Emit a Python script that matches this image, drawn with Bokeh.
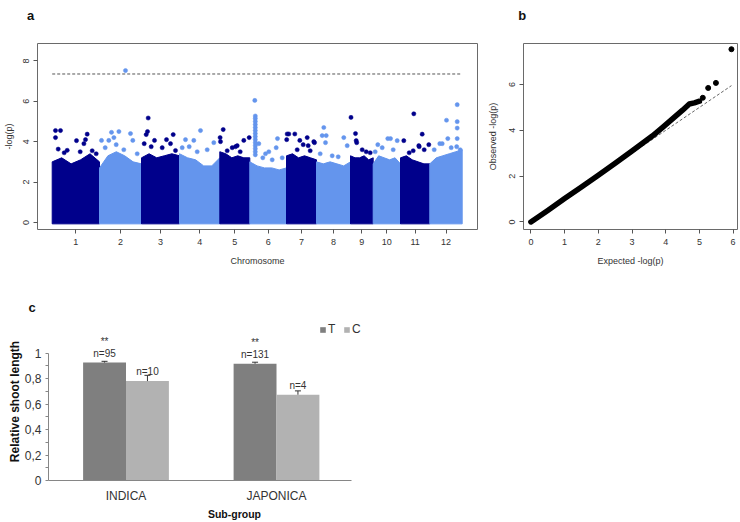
import numpy as np
from bokeh.plotting import figure
from bokeh.models import (Range1d, FixedTicker, CustomJSTickFormatter,
                          Legend, LegendItem, ColumnDataSource)
from bokeh.layouts import column, row
from bokeh.core.properties import value
from bokeh.embed import file_html
from bokeh.resources import INLINE

FONT = "Liberation Sans"

# ================= data: panel a (Manhattan plot) =================
chrom_labels = [str(i) for i in range(1, 13)]
chrom_span = [47.3, 42.0, 38.0, 40.3, 30.0, 36.7, 30.0, 34.0, 22.7, 27.3, 29.3, 32.4]
chrom_colors = ["#00008B", "#6495ED"]
# upper envelope of the dense SNP cloud (-log p), 6 samples across each chromosome
band_top = [
    [3.0, 3.2, 2.9, 3.1, 3.4, 3.0],
    [2.7, 3.3, 3.5, 3.3, 3.0, 2.9],
    [3.2, 3.4, 3.2, 3.3, 3.4, 3.3],
    [3.4, 3.2, 3.1, 2.8, 2.8, 3.2],
    [3.5, 3.4, 3.2, 3.3, 3.2, 3.2],
    [3.0, 2.8, 2.7, 2.7, 2.6, 2.7],
    [3.3, 3.4, 3.2, 3.3, 3.2, 3.1],
    [3.0, 2.9, 3.0, 2.9, 2.8, 3.0],
    [3.3, 3.2, 3.2, 3.3, 3.1, 3.2],
    [2.9, 3.3, 3.2, 3.1, 3.2, 2.9],
    [3.2, 3.3, 3.1, 3.0, 2.9, 2.9],
    [2.9, 3.2, 3.3, 3.4, 3.5, 3.6],
]
# individual SNPs above the dense cloud: chromosome, position in chromosome, -log p
hit_chr = ([1] * 13 + [2] * 12 + [3] * 11 + [4] * 8 + [5] * 10 + [6] * 23 +
           [7] * 12 + [8] * 9 + [9] * 7 + [10] * 7 + [11] * 9 + [12] * 12)
hit_pos = [3.3, 8.3, 3.3, 6.0, 35.0, 33.3, 24.3, 31.7, 15.0, 28.0, 12.0, 40.0, 44.0,
           2.0, 9.3, 12.0, 14.4, 19.4, 31.0, 33.3, 24.3, 37.7, 26.0, 16.7, 5.7,
           6.7, 6.0, 4.7, 2.7, 13.0, 25.0, 31.7, 29.0, 34.0, 20.7, 9.7,
           6.0, 14.3, 21.0, 27.7, 34.3, 2.7, 9.7, 17.7,
           3.4, 0.3, 0.7, 17.4, 12.4, 15.7, 24.0, 29.4, 7.4, 20.4,
           5.0, 5.5, 5.5, 5.5, 5.5, 5.5, 5.5, 5.5, 5.5, 5.5, 5.5, 5.5, 5.5, 5.5, 5.5,
           9.0, 26.4, 27.7, 15.7, 13.0, 19.0, 32.4, 22.4,
           0.7, 2.3, 8.3, 0.2, 13.3, 20.7, 21.7, 27.3, 16.7, 28.0, 10.7, 23.7,
           7.3, 5.7, 9.7, 9.0, 27.3, 30.7, 3.7, 15.7, 21.7,
           0.5, 5.0, 5.7, 6.2, 11.7, 15.7, 19.7,
           4.6, 14.6, 17.3, 24.0, 9.0, 20.0, 2.0,
           3.3, 13.3, 21.7, 18.3, 28.3, 12.7, 18.7, 8.7, 23.7,
           27.4, 16.7, 27.4, 27.4, 27.4, 26.9, 10.0, 12.4, 18.0, 4.4, 21.4, 30.4]
hit_logp = [4.55, 4.55, 4.2, 3.63, 4.37, 4.1, 4.05, 3.9, 3.57, 3.5, 3.45, 3.55, 3.4,
            4.06, 4.06, 4.46, 4.2, 4.5, 4.4, 4.06, 3.6, 3.4, 7.52, 3.85, 3.7,
            5.17, 4.5, 4.35, 3.9, 4.06, 4.1, 4.35, 3.9, 3.56, 3.7, 3.75,
            4.1, 4.06, 4.55, 3.6, 3.95, 3.7, 3.75, 3.5,
            4.6, 4.2, 4.0, 3.8, 3.7, 3.75, 4.06, 4.2, 3.55, 3.5,
            6.04, 5.27, 5.15, 5.0, 4.85, 4.7, 4.55, 4.4, 4.25, 4.1, 3.95, 3.8, 3.65, 3.5, 3.35,
            3.9, 3.7, 4.15, 3.4, 3.2, 3.5, 3.2, 3.1,
            4.38, 4.38, 4.38, 4.1, 4.06, 4.2, 3.8, 4.0, 3.85, 3.95, 3.6, 3.55,
            4.7, 4.3, 4.3, 3.95, 4.2, 3.8, 3.4, 3.3, 3.25,
            5.2, 4.4, 4.05, 3.95, 3.6, 3.5, 3.45,
            3.85, 4.15, 4.15, 4.05, 3.7, 3.6, 3.5,
            4.05, 5.38, 4.37, 3.8, 3.85, 3.55, 3.75, 3.45, 3.6,
            5.83, 5.06, 4.99, 4.67, 4.15, 3.75, 3.9, 3.9, 4.15, 3.6, 3.7, 3.6]
threshold = 7.35
manhattan_yticks = [0, 2, 4, 6, 8]

# ================= data: panel b (QQ plot) =================
qq_expected = [0.0, 0.5, 1.0, 1.5, 2.0, 2.5, 3.0, 3.3, 3.6, 3.9, 4.2, 4.5, 4.7, 4.85, 5.0]
qq_observed = [0.0, 0.5, 1.02, 1.53, 2.04, 2.56, 3.1, 3.42, 3.75, 4.12, 4.5, 4.88, 5.15, 5.2, 5.27]
qq_tail_expected = [5.10, 5.26, 5.49, 5.95]
qq_tail_observed = [5.42, 5.85, 6.07, 7.54]
qq_xticks = [0, 1, 2, 3, 4, 5, 6]
qq_yticks = [0, 2, 4, 6]

# ================= data: panel c (bar chart) =================
groups = ["INDICA", "JAPONICA"]
series = ["T", "C"]
mean_T = [0.925, 0.916]
mean_C = [0.780, 0.673]
err_T = [0.010, 0.012]
err_C = [0.045, 0.030]
n_T = ["n=95", "n=131"]
n_C = ["n=10", "n=4"]
sig_T = ["**", "**"]
bar_yticks = [0, 0.2, 0.4, 0.6, 0.8, 1.0]
bar_yminor = [0.1, 0.3, 0.5, 0.7, 0.9]
colors_TC = ["#7F7F7F", "#B2B2B2"]

panel_letters = ["a", "b", "c"]

TXT = "#333333"


def blank_strip(w, h):
    f = figure(width=w, height=h, x_range=Range1d(0, w), y_range=Range1d(h, 0),
               output_backend="svg", toolbar_location=None, title=None,
               x_axis_location=None, y_axis_location=None,
               min_border_left=0, min_border_right=0, min_border_top=0, min_border_bottom=0)
    f.grid.visible = False
    f.outline_line_color = None
    return f


def style_r_axis(ax, size="9px"):
    ax.axis_line_color = None
    ax.major_tick_line_color = "#555555"
    ax.major_tick_out = 4
    ax.major_tick_in = 0
    ax.minor_tick_line_color = None
    ax.major_label_text_font = FONT
    ax.major_label_text_font_size = size
    ax.major_label_text_color = TXT
    ax.axis_label_text_font = FONT
    ax.axis_label_text_font_size = size
    ax.axis_label_text_font_style = "normal"
    ax.axis_label_text_color = TXT


letter_kw = dict(text_font=value(FONT), text_font_size="13px", text_font_style="bold",
                 text_align="center", text_baseline="alphabetic", text_color="#111111")

# ---------------- header strip with letters a, b ----------------
H1 = 22
hdr1 = blank_strip(740, H1)
hdr1.text(x=[30, 521.7], y=[15, 15], text=panel_letters[:2], **letter_kw)

# ---------------- panel a ----------------
A_W, A_H = 480, 290 - H1
A_L, A_R, A_T = 37, 3, 43 - H1
A_B = A_H - A_T - 186
ax0, ax1 = -14.7, 425.3
ay0, ay1 = -0.35, 8.86
pa = figure(width=A_W, height=A_H, x_range=Range1d(ax0, ax1), y_range=Range1d(ay0, ay1),
            output_backend="svg", toolbar_location=None, title=None,
            min_border_left=A_L, min_border_right=A_R, min_border_top=A_T, min_border_bottom=A_B)
pa.grid.visible = False
pa.outline_line_color = "#6a6a6a"
pa.outline_line_width = 1

starts = np.concatenate([[0.0], np.cumsum(chrom_span)[:-1]])
centers = starts + np.array(chrom_span) / 2.0
xs, ys, cols = [], [], []
for i, (s, w) in enumerate(zip(starts, chrom_span)):
    n = len(band_top[i])
    px = [s + w * k / (n - 1) for k in range(n)]
    xs.append([s] + px + [s + w])
    ys.append([-0.07] + band_top[i] + [-0.07])
    cols.append(chrom_colors[i % 2])
pa.patches(xs, ys, fill_color=cols, line_color=cols, line_width=1)

hx = [starts[c - 1] + p for c, p in zip(hit_chr, hit_pos)]
hc = [chrom_colors[(c - 1) % 2] for c in hit_chr]
pa.scatter(hx, hit_logp, size=4.2, fill_color=hc, line_color=hc, line_width=0.5)

total = float(np.sum(chrom_span))
pa.line([0, total], [threshold, threshold], line_color="#555555", line_dash="3 2", line_width=1)

pa.xaxis.ticker = FixedTicker(ticks=list(centers))
pa.xaxis.formatter = CustomJSTickFormatter(args=dict(names=chrom_labels), code="return names[index];")
pa.yaxis.ticker = FixedTicker(ticks=manhattan_yticks)
pa.yaxis.major_label_orientation = "vertical"
style_r_axis(pa.xaxis[0])
style_r_axis(pa.yaxis[0])
pa.xaxis.axis_label = "Chromosome"
pa.yaxis.axis_label = "-log(p)"
pa.xaxis.major_label_standoff = 5
pa.xaxis.axis_label_standoff = 8
pa.yaxis.major_label_standoff = 4
pa.yaxis.axis_label_standoff = 7

# ---------------- panel b ----------------
B_W, B_H = 260, 290 - H1
B_L, B_R, B_T = 43, 3, 43 - H1
B_B = B_H - B_T - 186
bx0, bx1 = -0.22, 6.13
by0, by1 = -0.33, 7.79
pb = figure(width=B_W, height=B_H, x_range=Range1d(bx0, bx1), y_range=Range1d(by0, by1),
            output_backend="svg", toolbar_location=None, title=None,
            min_border_left=B_L, min_border_right=B_R, min_border_top=B_T, min_border_bottom=B_B)
pb.grid.visible = False
pb.outline_line_color = "#6a6a6a"
pb.outline_line_width = 1
diag_end = max(qq_tail_expected)
pb.line([0, diag_end], [0, diag_end], line_color="#666666", line_dash="3 2", line_width=1)
pb.line(qq_expected, qq_observed, line_color="black", line_width=5.5, line_cap="round", line_join="round")
pb.scatter(qq_tail_expected, qq_tail_observed, size=5, color="black")
pb.xaxis.ticker = FixedTicker(ticks=qq_xticks)
pb.yaxis.ticker = FixedTicker(ticks=qq_yticks)
pb.yaxis.major_label_orientation = "vertical"
style_r_axis(pb.xaxis[0])
style_r_axis(pb.yaxis[0])
pb.xaxis.axis_label = "Expected -log(p)"
pb.yaxis.axis_label = "Observed -log(p)"
pb.xaxis.major_label_standoff = 5
pb.xaxis.axis_label_standoff = 8
pb.yaxis.major_label_standoff = 4
pb.yaxis.axis_label_standoff = 9

# ---------------- header strip with letter c ----------------
H2 = 24
hdr2 = blank_strip(740, H2)
hdr2.text(x=[31.7], y=[17], text=panel_letters[2:], **letter_kw)

# ---------------- panel c ----------------
C_W, C_H = 440, 208
C_L, C_T, C_B = 48, 8, 38
C_FW = 372
CAT_PX = 150.5                      # pixels per category
cx0 = 0.5 - 77.5 / CAT_PX
cx1 = cx0 + C_FW / CAT_PX
cy0 = 0.0
cy1 = (C_H - C_T - C_B) / 130.7
pc = figure(width=C_W, height=C_H, x_range=Range1d(cx0, cx1),
            y_range=Range1d(cy0, cy1), output_backend="svg", toolbar_location=None, title=None,
            min_border_left=C_L, min_border_right=C_W - C_L - C_FW, min_border_top=C_T,
            min_border_bottom=C_B)
pc.grid.visible = False
pc.outline_line_color = None

grp_x = [i + 0.5 for i in range(len(groups))]
bw = 0.285
off = bw / 2
src = ColumnDataSource(dict(
    xT=[g - off for g in grp_x], xC=[g + off for g in grp_x],
    T=mean_T, C=mean_C,
    T_hi=[m + e for m, e in zip(mean_T, err_T)],
    C_hi=[m + e for m, e in zip(mean_C, err_C)],
    nT=n_T, nC=n_C, sT=sig_T))
rT = pc.vbar(x="xT", top="T", width=bw, source=src, fill_color=colors_TC[0], line_color=None)
rC = pc.vbar(x="xC", top="C", width=bw, source=src, fill_color=colors_TC[1], line_color=None)
for xx, lo, hi in [("xT", "T", "T_hi"), ("xC", "C", "C_hi")]:
    pc.segment(x0=xx, y0=lo, x1=xx, y1=hi, source=src, line_color="#333333", line_width=1)
    pc.scatter(x=xx, y=hi, source=src, marker="dash", size=6, line_color="#333333", line_width=1)
for xx, yy, tt in [("xT", "T", "nT"), ("xC", "C", "nC")]:
    pc.text(x=xx, y=yy, text=tt, source=src, text_align="center", text_baseline="bottom",
            y_offset=-4, text_font=value(FONT), text_font_size="10px", text_color=TXT)
pc.text(x="xT", y="T", text="sT", source=src, text_align="center", text_baseline="bottom",
        y_offset=-16, text_font=value(FONT), text_font_size="10px", text_color=TXT)

legend = Legend(items=[LegendItem(label=series[0], renderers=[rT]),
                       LegendItem(label=series[1], renderers=[rC])],
                orientation="horizontal", location=(271, 144), padding=0, margin=0,
                spacing=7, label_standoff=2, glyph_width=7, glyph_height=7,
                label_width=8, label_height=12,
                border_line_color=None, background_fill_alpha=0,
                label_text_font=FONT, label_text_font_size="12px", label_text_color=TXT)
pc.add_layout(legend)

AX = "#868686"
pc.yaxis.bounds = (0, 1)
pc.yaxis.ticker = FixedTicker(ticks=bar_yticks, minor_ticks=bar_yminor)
pc.yaxis.formatter = CustomJSTickFormatter(
    code="return (Math.round(tick * 10) / 10).toString().replace('.', ',');")
pc.yaxis.axis_line_color = AX
pc.yaxis.major_tick_line_color = AX
pc.yaxis.minor_tick_line_color = AX
pc.yaxis.major_tick_out = 3
pc.yaxis.major_tick_in = 0
pc.yaxis.minor_tick_out = 3
pc.yaxis.minor_tick_in = 0
pc.yaxis.major_label_standoff = 4
pc.yaxis.axis_label = "Relative shoot length"
pc.yaxis.axis_label_standoff = 0
pc.xaxis.bounds = (cx0, len(groups))
pc.xaxis.ticker = FixedTicker(ticks=grp_x)
pc.xaxis.formatter = CustomJSTickFormatter(args=dict(names=groups), code="return names[index];")
pc.xaxis.axis_line_color = AX
pc.xaxis.major_tick_line_color = None
pc.xaxis.minor_tick_line_color = None
pc.xaxis.major_tick_out = 0
pc.xaxis.major_tick_in = 0
pc.xaxis.minor_tick_out = 0
pc.xaxis.major_label_standoff = 8
pc.xaxis.axis_label = "Sub-group"
pc.xaxis.axis_label_standoff = 2
for ax in (pc.xaxis[0], pc.yaxis[0]):
    ax.major_label_text_font = FONT
    ax.major_label_text_font_size = "12px"
    ax.major_label_text_color = TXT
    ax.axis_label_text_font = FONT
    ax.axis_label_text_font_size = "12px"
    ax.axis_label_text_font_style = "bold"
    ax.axis_label_text_color = "#111111"
pc.xaxis.axis_label_text_font_size = "10.5px"

layout = column(row(hdr1), row(pa, pb), row(hdr2), row(pc))
open("out.html", "w").write(file_html(layout, INLINE))
